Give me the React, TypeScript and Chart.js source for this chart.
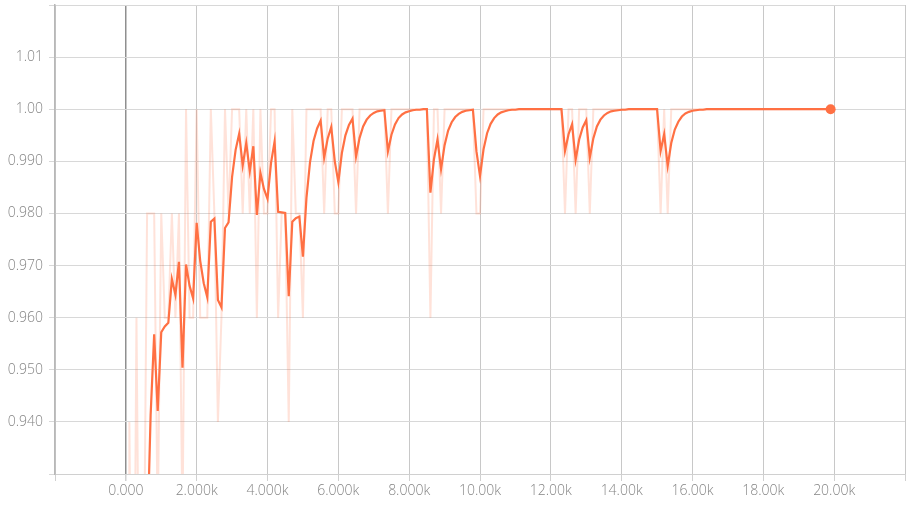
import React, { useEffect, useRef } from "react";
import { Chart, registerables } from "chart.js";

Chart.register(...registerables);

const steps = [
  0, 100, 200, 300, 400, 500, 600, 700, 800, 900,
  1000, 1100, 1200, 1300, 1400, 1500, 1600, 1700, 1800, 1900,
  2000, 2100, 2200, 2300, 2400, 2500, 2600, 2700, 2800, 2900,
  3000, 3100, 3200, 3300, 3400, 3500, 3600, 3700, 3800, 3900,
  4000, 4100, 4200, 4300, 4400, 4500, 4600, 4700, 4800, 4900,
  5000, 5100, 5200, 5300, 5400, 5500, 5600, 5700, 5800, 5900,
  6000, 6100, 6200, 6300, 6400, 6500, 6600, 6700, 6800, 6900,
  7000, 7100, 7200, 7300, 7400, 7500, 7600, 7700, 7800, 7900,
  8000, 8100, 8200, 8300, 8400, 8500, 8600, 8700, 8800, 8900,
  9000, 9100, 9200, 9300, 9400, 9500, 9600, 9700, 9800, 9900,
  10000, 10100, 10200, 10300, 10400, 10500, 10600, 10700, 10800, 10900,
  11000, 11100, 11200, 11300, 11400, 11500, 11600, 11700, 11800, 11900,
  12000, 12100, 12200, 12300, 12400, 12500, 12600, 12700, 12800, 12900,
  13000, 13100, 13200, 13300, 13400, 13500, 13600, 13700, 13800, 13900,
  14000, 14100, 14200, 14300, 14400, 14500, 14600, 14700, 14800, 14900,
  15000, 15100, 15200, 15300, 15400, 15500, 15600, 15700, 15800, 15900,
  16000, 16100, 16200, 16300, 16400, 16500, 16600, 16700, 16800, 16900,
  17000, 17100, 17200, 17300, 17400, 17500, 17600, 17700, 17800, 17900,
  18000, 18100, 18200, 18300, 18400, 18500, 18600, 18700, 18800, 18900,
  19000, 19100, 19200, 19300, 19400, 19500, 19600, 19700, 19800, 19900,
];

const rawValues = [
  0.10, 0.94, 0.86, 0.96, 0.88, 0.90, 0.98, 0.98, 0.98, 0.92,
  0.98, 0.96, 0.96, 0.98, 0.96, 0.98, 0.92, 1.00, 0.96, 0.96,
  1.00, 0.96, 0.96, 0.96, 1.00, 0.98, 0.94, 0.96, 1.00, 0.98,
  1.00, 1.00, 1.00, 0.98, 1.00, 0.98, 1.00, 0.96, 1.00, 0.98,
  0.98, 1.00, 1.00, 0.96, 0.98, 0.98, 0.94, 1.00, 0.98, 0.98,
  0.96, 1.00, 1.00, 1.00, 1.00, 1.00, 0.98, 1.00, 1.00, 0.98,
  0.98, 1.00, 1.00, 1.00, 1.00, 0.98, 1.00, 1.00, 1.00, 1.00,
  1.00, 1.00, 1.00, 1.00, 0.98, 1.00, 1.00, 1.00, 1.00, 1.00,
  1.00, 1.00, 1.00, 1.00, 1.00, 1.00, 0.96, 1.00, 1.00, 0.98,
  1.00, 1.00, 1.00, 1.00, 1.00, 1.00, 1.00, 1.00, 1.00, 0.98,
  0.98, 1.00, 1.00, 1.00, 1.00, 1.00, 1.00, 1.00, 1.00, 1.00,
  1.00, 1.00, 1.00, 1.00, 1.00, 1.00, 1.00, 1.00, 1.00, 1.00,
  1.00, 1.00, 1.00, 1.00, 0.98, 1.00, 1.00, 0.98, 1.00, 1.00,
  1.00, 0.98, 1.00, 1.00, 1.00, 1.00, 1.00, 1.00, 1.00, 1.00,
  1.00, 1.00, 1.00, 1.00, 1.00, 1.00, 1.00, 1.00, 1.00, 1.00,
  1.00, 0.98, 1.00, 0.98, 1.00, 1.00, 1.00, 1.00, 1.00, 1.00,
  1.00, 1.00, 1.00, 1.00, 1.00, 1.00, 1.00, 1.00, 1.00, 1.00,
  1.00, 1.00, 1.00, 1.00, 1.00, 1.00, 1.00, 1.00, 1.00, 1.00,
  1.00, 1.00, 1.00, 1.00, 1.00, 1.00, 1.00, 1.00, 1.00, 1.00,
  1.00, 1.00, 1.00, 1.00, 1.00, 1.00, 1.00, 1.00, 1.00, 1.00,
];

const smoothedValues = [
  0.1000, 0.6250, 0.7450, 0.8440, 0.8600, 0.8725, 0.9155, 0.9413, 0.9568, 0.9421,
  0.9572, 0.9583, 0.9590, 0.9674, 0.9644, 0.9707, 0.9504, 0.9702, 0.9661, 0.9637,
  0.9782, 0.9709, 0.9666, 0.9639, 0.9784, 0.9790, 0.9634, 0.9620, 0.9772, 0.9783,
  0.9870, 0.9922, 0.9953, 0.9892, 0.9935, 0.9881, 0.9929, 0.9797, 0.9878, 0.9847,
  0.9828, 0.9897, 0.9938, 0.9803, 0.9802, 0.9801, 0.9641, 0.9784, 0.9791, 0.9794,
  0.9717, 0.9830, 0.9898, 0.9939, 0.9963, 0.9978, 0.9907, 0.9944, 0.9966, 0.9900,
  0.9860, 0.9916, 0.9950, 0.9970, 0.9982, 0.9909, 0.9945, 0.9967, 0.9980, 0.9988,
  0.9993, 0.9996, 0.9997, 0.9998, 0.9919, 0.9951, 0.9971, 0.9983, 0.9990, 0.9994,
  0.9996, 0.9998, 0.9999, 0.9999, 1.0000, 1.0000, 0.9840, 0.9904, 0.9942, 0.9885,
  0.9931, 0.9959, 0.9975, 0.9985, 0.9991, 0.9995, 0.9997, 0.9998, 0.9999, 0.9919,
  0.9872, 0.9923, 0.9954, 0.9972, 0.9983, 0.9990, 0.9994, 0.9996, 0.9998, 0.9999,
  0.9999, 1.0000, 1.0000, 1.0000, 1.0000, 1.0000, 1.0000, 1.0000, 1.0000, 1.0000,
  1.0000, 1.0000, 1.0000, 1.0000, 0.9920, 0.9952, 0.9971, 0.9903, 0.9942, 0.9965,
  0.9979, 0.9907, 0.9944, 0.9967, 0.9980, 0.9988, 0.9993, 0.9996, 0.9997, 0.9998,
  0.9999, 0.9999, 1.0000, 1.0000, 1.0000, 1.0000, 1.0000, 1.0000, 1.0000, 1.0000,
  1.0000, 0.9920, 0.9952, 0.9891, 0.9935, 0.9961, 0.9976, 0.9986, 0.9992, 0.9995,
  0.9997, 0.9998, 0.9999, 0.9999, 1.0000, 1.0000, 1.0000, 1.0000, 1.0000, 1.0000,
  1.0000, 1.0000, 1.0000, 1.0000, 1.0000, 1.0000, 1.0000, 1.0000, 1.0000, 1.0000,
  1.0000, 1.0000, 1.0000, 1.0000, 1.0000, 1.0000, 1.0000, 1.0000, 1.0000, 1.0000,
  1.0000, 1.0000, 1.0000, 1.0000, 1.0000, 1.0000, 1.0000, 1.0000, 1.0000, 1.0000,
];

const xTickLabels: Record<number, string> = {
  0: "0.000",
  2000: "2.000k",
  4000: "4.000k",
  6000: "6.000k",
  8000: "8.000k",
  10000: "10.00k",
  12000: "12.00k",
  14000: "14.00k",
  16000: "16.00k",
  18000: "18.00k",
  20000: "20.00k",
};

const yTickLabels: Record<string, string> = {
  "0.94": "0.940",
  "0.95": "0.950",
  "0.96": "0.960",
  "0.97": "0.970",
  "0.98": "0.980",
  "0.99": "0.990",
  "1.00": "1.00",
  "1.01": "1.01",
};

const ORANGE = "rgb(255,112,67)";
const ORANGE_FAINT = "rgba(255,112,67,0.2)";

export default function App() {
  const canvasRef = useRef<HTMLCanvasElement | null>(null);

  useEffect(() => {
    if (!canvasRef.current) return;
    const rawData = steps.map((s, i) => ({ x: s, y: rawValues[i] }));
    const smoothData = steps.map((s, i) => ({ x: s, y: smoothedValues[i] }));
    const last = smoothData.length - 1;
    const tickFont = { family: "'Open Sans', 'DejaVu Sans', sans-serif", size: 14, weight: 300 as any };

    const chart = new Chart(canvasRef.current, {
      type: "line",
      data: {
        datasets: [
          {
            label: "smoothed",
            data: smoothData,
            borderColor: ORANGE,
            backgroundColor: ORANGE,
            borderWidth: 2.2,
            tension: 0,
            pointRadius: (ctx: any) => (ctx.dataIndex === last ? 5 : 0),
            pointHoverRadius: 0,
            pointBorderWidth: 0,
            order: 0,
          },
          {
            label: "raw",
            data: rawData,
            borderColor: ORANGE_FAINT,
            backgroundColor: ORANGE_FAINT,
            borderWidth: 2,
            tension: 0,
            pointRadius: 0,
            order: 1,
          },
        ],
      },
      options: {
        animation: false,
        responsive: false,
        devicePixelRatio: 1,
        layout: { padding: { top: 4, right: 8, left: 0, bottom: 0 } },
        plugins: {
          legend: { display: false },
          tooltip: { enabled: false },
        },
        scales: {
          x: {
            type: "linear",
            min: -2000,
            max: 22000,
            afterFit: (scale: any) => {
              scale.height = 31;
              scale.paddingLeft = 0;
              scale.paddingRight = 0;
            },
            afterBuildTicks: (scale: any) => {
              const t = [];
              for (let v = -2000; v <= 22000; v += 2000) t.push({ value: v });
              scale.ticks = t;
            },
            ticks: {
              autoSkip: false,
              maxRotation: 0,
              padding: 2,
              color: "#858585",
              font: tickFont,
              callback: (v: any) => xTickLabels[v as number] ?? "",
            },
            grid: {
              color: (ctx: any) => (ctx.tick && ctx.tick.value === 0 ? "#8f8f8f" : "#c8c8c8"),
              lineWidth: (ctx: any) => (ctx.tick && ctx.tick.value === 0 ? 1.5 : 1),
              tickLength: 7,
              tickColor: "#d0d0d0",
            },
            border: { color: "#d0d0d0", width: 1 },
          },
          y: {
            type: "linear",
            min: 0.93,
            max: 1.02,
            afterFit: (scale: any) => {
              scale.width = 55;
              scale.paddingTop = 0;
              scale.paddingBottom = 0;
            },
            afterBuildTicks: (scale: any) => {
              const t = [];
              for (let i = 0; i <= 9; i++) t.push({ value: Math.round((0.93 + i * 0.01) * 100) / 100 });
              scale.ticks = t;
            },
            ticks: {
              autoSkip: false,
              padding: 6,
              color: "#858585",
              font: tickFont,
              callback: (v: any) => yTickLabels[(v as number).toFixed(2)] ?? "",
            },
            grid: {
              color: "#d8d8d8",
              lineWidth: 1,
              tickLength: 6,
              tickColor: "#d8d8d8",
            },
            border: { color: "#b8b8b8", width: 1.5 },
          },
        },
      },
    } as any);

    return () => chart.destroy();
  }, []);

  return (
    <div style={{ position: "absolute", left: 0, top: 0, width: 913, height: 505, background: "#fff" }}>
      <canvas ref={canvasRef} width={913} height={505} style={{ display: "block" }} />
    </div>
  );
}
